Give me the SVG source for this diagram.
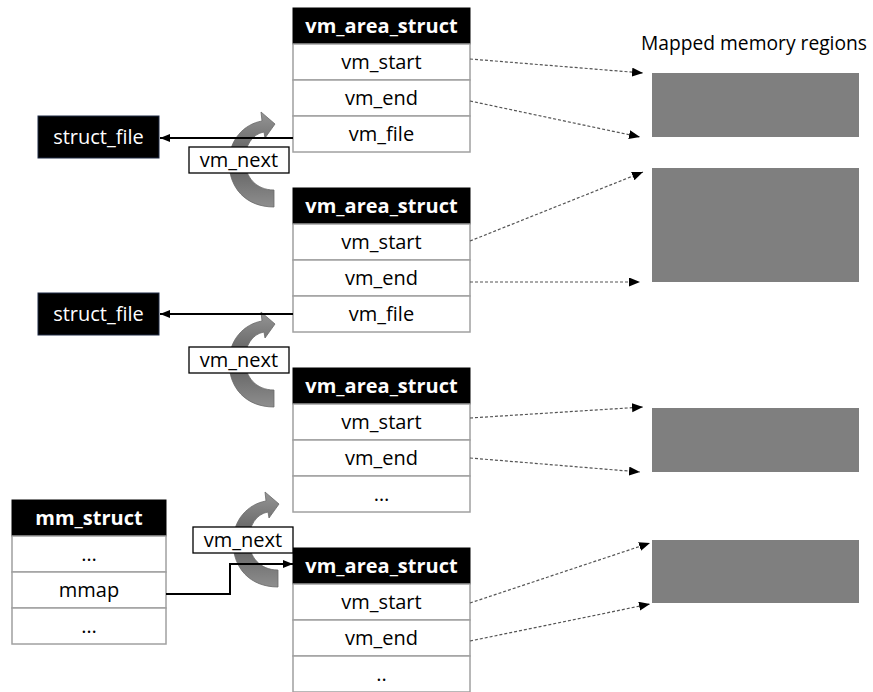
<svg xmlns="http://www.w3.org/2000/svg" width="873" height="692" viewBox="0 0 873 692">
<style>
text{font-family:"Open Sans","Liberation Sans",sans-serif;font-size:20px;text-anchor:middle}
.hd{fill:#000;stroke:#000;stroke-width:1}
.hdt{fill:#fff;font-weight:bold}
.row{fill:#fff;stroke:#a0a0a0;stroke-width:1.5}
.rt{fill:#000}
.mem{fill:#7f7f7f}
.dot{fill:none;stroke:#555;stroke-width:1.2;stroke-dasharray:3 2;marker-end:url(#ah)}
.sol{fill:none;stroke:#000;stroke-width:2;marker-end:url(#ah2)}
.nb{fill:#fff;stroke:#000;stroke-width:1.3}
.cur{fill:url(#g);stroke:#6a6a6a;stroke-width:0.8}
</style>
<defs>
<marker id="ah" markerUnits="userSpaceOnUse" markerWidth="12" markerHeight="10" refX="11" refY="4.5" orient="auto"><path d="M0,0 L11,4.5 L0,9 Z" fill="#000"/></marker>
<marker id="ah2" markerUnits="userSpaceOnUse" markerWidth="12" markerHeight="10" refX="10" refY="4" orient="auto"><path d="M0,0 L10,4 L0,8 Z" fill="#000"/></marker>
<linearGradient id="g" x1="0" y1="0" x2="0" y2="1">
<stop offset="0" stop-color="#959595"/>
<stop offset="0.5" stop-color="#5c5c5c"/>
<stop offset="1" stop-color="#8e8e8e"/>
</linearGradient>
<path id="curve" class="cur" d="M274,207 C246,207 229,188 229,162 C229,140 244,124 262,121 L261,112 L275,124 L265,138 L264,132 C252,134 245,146 245,160 C245,177 256,190 274,190 Z"/>
</defs>

<text x="641" y="50" style="text-anchor:start;font-size:19.5px" textLength="226" lengthAdjust="spacingAndGlyphs">Mapped memory regions</text>

<g id="regions">
<rect class="mem" x="652" y="73" width="207" height="64"/>
<rect class="mem" x="652" y="168" width="207" height="114"/>
<rect class="mem" x="652" y="408" width="207" height="64"/>
<rect class="mem" x="652" y="540" width="207" height="63"/>
</g>

<g id="vm1">
<rect class="hd" x="293" y="8" width="177" height="36"/>
<text class="hdt" x="381.5" y="33">vm_area_struct</text>
<rect class="row" x="293" y="44" width="177" height="36"/>
<text class="rt" x="381.5" y="69">vm_start</text>
<rect class="row" x="293" y="80" width="177" height="36"/>
<text class="rt" x="381.5" y="105">vm_end</text>
<rect class="row" x="293" y="116" width="177" height="36"/>
<text class="rt" x="381.5" y="141">vm_file</text>
</g>
<g id="vm2">
<rect class="hd" x="293" y="188" width="177" height="36"/>
<text class="hdt" x="381.5" y="213">vm_area_struct</text>
<rect class="row" x="293" y="224" width="177" height="36"/>
<text class="rt" x="381.5" y="249">vm_start</text>
<rect class="row" x="293" y="260" width="177" height="36"/>
<text class="rt" x="381.5" y="285">vm_end</text>
<rect class="row" x="293" y="296" width="177" height="36"/>
<text class="rt" x="381.5" y="321">vm_file</text>
</g>
<g id="vm3">
<rect class="hd" x="293" y="368" width="177" height="36"/>
<text class="hdt" x="381.5" y="393">vm_area_struct</text>
<rect class="row" x="293" y="404" width="177" height="36"/>
<text class="rt" x="381.5" y="429">vm_start</text>
<rect class="row" x="293" y="440" width="177" height="36"/>
<text class="rt" x="381.5" y="465">vm_end</text>
<rect class="row" x="293" y="476" width="177" height="36"/>
<text class="rt" x="381.5" y="501">…</text>
</g>
<g id="vm4">
<rect class="hd" x="293" y="548" width="177" height="36"/>
<text class="hdt" x="381.5" y="573">vm_area_struct</text>
<rect class="row" x="293" y="584" width="177" height="36"/>
<text class="rt" x="381.5" y="609">vm_start</text>
<rect class="row" x="293" y="620" width="177" height="36"/>
<text class="rt" x="381.5" y="645">vm_end</text>
<rect class="row" x="293" y="656" width="177" height="36"/>
<text class="rt" x="381.5" y="681">..</text>
</g>

<g id="file1">
<rect x="38" y="116" width="121" height="42" fill="#000" stroke="#1f2a44" stroke-width="1"/>
<text x="98.5" y="144" fill="#fff">struct_file</text>
</g>
<g id="file2">
<rect x="38" y="293" width="121" height="42" fill="#000" stroke="#1f2a44" stroke-width="1"/>
<text x="98.5" y="321" fill="#fff">struct_file</text>
</g>

<g id="mm">
<rect class="hd" x="12" y="500" width="154" height="36"/>
<text class="hdt" x="89" y="525">mm_struct</text>
<rect class="row" x="12" y="536" width="154" height="36"/>
<text class="rt" x="89" y="561">…</text>
<rect class="row" x="12" y="572" width="154" height="36"/>
<text class="rt" x="89" y="597">mmap</text>
<rect class="row" x="12" y="608" width="154" height="36"/>
<text class="rt" x="89" y="633">…</text>
</g>

<g id="connectors">
<path class="dot" d="M470,59 L643,73"/>
<path class="dot" d="M470,101 L640,137"/>
<path class="dot" d="M470,241 L643,172"/>
<path class="dot" d="M470,282 L640,282"/>
<path class="dot" d="M470,418 L643,407"/>
<path class="dot" d="M470,458 L640,472"/>
<path class="dot" d="M470,603 L650,543"/>
<path class="dot" d="M470,641 L650,604"/>
<use href="#curve"/>
<use href="#curve" transform="translate(0,200)"/>
<use href="#curve" transform="translate(4,380)"/>
<path class="sol" d="M293,138 L160,138"/>
<path class="sol" d="M293,314 L160,314"/>
<path class="sol" d="M166,594 L230,594 L230,564 L293,564"/>
</g>

<g id="next1">
<rect class="nb" x="189" y="147" width="100" height="26"/>
<text x="239" y="167">vm_next</text>
</g>
<g id="next2">
<rect class="nb" x="189" y="347" width="100" height="26"/>
<text x="239" y="367">vm_next</text>
</g>
<g id="next3">
<rect class="nb" x="193" y="527" width="100" height="26"/>
<text x="243" y="547">vm_next</text>
</g>
</svg>
